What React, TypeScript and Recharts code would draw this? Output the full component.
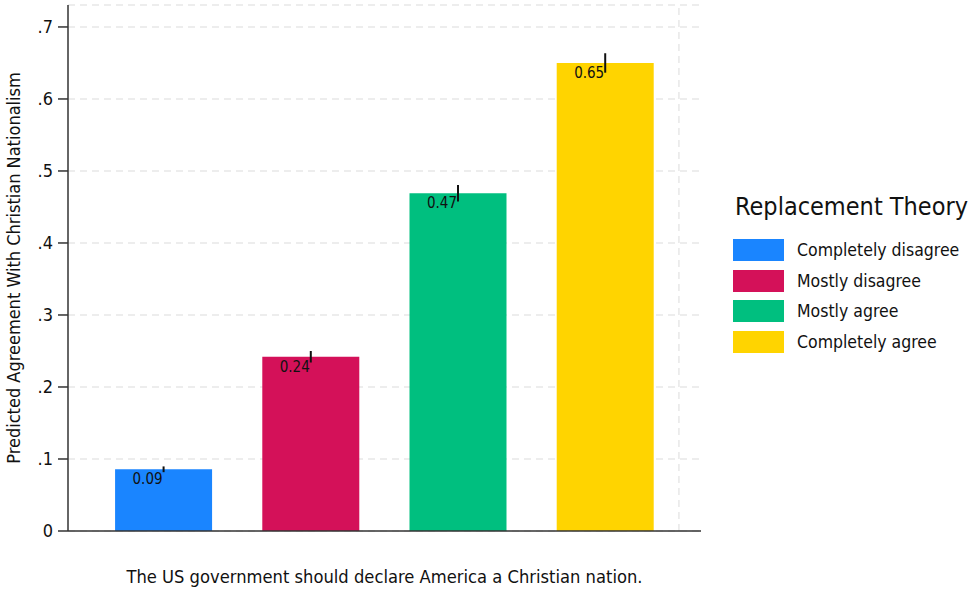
import React from 'react';
import {
  ComposedChart,
  Bar,
  XAxis,
  YAxis,
  CartesianGrid,
  ErrorBar,
  LabelList,
  Cell,
  Legend,
  ReferenceLine,
  Label,
} from 'recharts';

const categories = ['Completely disagree', 'Mostly disagree', 'Mostly agree', 'Completely agree'];
const positions = [1, 2, 3, 4];
const predicted = [0.0857, 0.242, 0.469, 0.65];
const ciHalfWidth = [0.004, 0.008, 0.0115, 0.0135];
const colors = ['#1A85FF', '#D41159', '#00BF7F', '#FFD400'];
const yTicks = [0, 0.1, 0.2, 0.3, 0.4, 0.5, 0.6, 0.7];
const xDomain = [0.35, 4.65];
const yDomain = [0, 0.7305];
const xGridLines = [4.5];
const legendTitle = 'Replacement Theory';
const xTitle = 'The US government should declare America a Christian nation.';
const yTitle = 'Predicted Agreement With Christian Nationalism';

const data = categories.map((c, i) => ({
  category: c,
  x: positions[i],
  value: predicted[i],
  err: ciHalfWidth[i],
}));

const FONT = "'DejaVu Sans Condensed', 'DejaVu Sans', sans-serif";
const GRID = '#e8e8e8';

const fmtY = (v: number) => (v === 0 ? '0' : v.toFixed(1).replace(/^0/, ''));

const renderValueLabel = (props: any) => {
  const { x, y, width, value } = props;
  if (value == null) return null;
  return (
    <text
      x={Number(x) + Number(width) / 2 - 1}
      y={Number(y) + 15}
      textAnchor="end"
      fontFamily={FONT}
      fontStretch="condensed"
      fontSize={15}
      fill="#111"
    >
      {Number(value).toFixed(2)}
    </text>
  );
};

const renderLegend = () => (
  <div style={{ position: 'relative', width: 244, height: 180, fontFamily: FONT, fontStretch: 'condensed', color: '#111' }}>
    <div style={{ position: 'absolute', left: 2, top: 1, fontSize: 25, lineHeight: '34px', whiteSpace: 'nowrap' }}>
      {legendTitle}
    </div>
    {categories.map((c, i) => (
      <div key={c} style={{ position: 'absolute', left: 0, top: 50 + i * 30.7, height: 22, width: 244 }}>
        <div style={{ position: 'absolute', left: 0, top: 0, width: 51, height: 22, background: colors[i] }} />
        <div
          style={{
            position: 'absolute',
            left: 64,
            top: -2,
            fontSize: 17.5,
            lineHeight: '26px',
            whiteSpace: 'nowrap',
          }}
        >
          {c}
        </div>
      </div>
    ))}
  </div>
);

export default function App() {
  return (
    <div style={{ position: 'absolute', left: 0, top: 0, width: 977, height: 591, background: '#fff' }}>
      <ComposedChart
        width={977}
        height={591}
        data={data}
        margin={{ top: 5, right: 276, bottom: 0, left: 0 }}
      >
        <CartesianGrid
          vertical={false}
          stroke={GRID}
          strokeWidth={1.5}
          strokeDasharray="7 5"
        />
        {xGridLines.map((g) => (
          <ReferenceLine key={g} x={g} stroke={GRID} strokeWidth={1.5} strokeDasharray="7 5" />
        ))}
        <XAxis
          dataKey="x"
          type="number"
          domain={xDomain}
          ticks={positions}
          tick={false}
          tickLine={false}
          allowDataOverflow
          height={60}
          stroke="#333"
          strokeWidth={1.5}
        >
          <Label
            content={(props: any) => {
              const vb = props.viewBox || {};
              return (
                <text
                  x={vb.x + vb.width / 2}
                  y={vb.y + 52}
                  textAnchor="middle"
                  fontFamily={FONT}
                  fontStretch="condensed"
                  fontSize={18.2}
                  fill="#111"
                >
                  {xTitle}
                </text>
              );
            }}
          />
        </XAxis>
        <YAxis
          type="number"
          domain={yDomain}
          ticks={yTicks}
          tickFormatter={fmtY}
          allowDataOverflow
          width={68}
          tickSize={10}
          tickMargin={5}
          stroke="#333"
          strokeWidth={1.5}
          tick={{ fill: '#111', fontFamily: FONT, fontSize: 18 }}
        >
          <Label
            content={(props: any) => {
              const vb = props.viewBox || {};
              const cx = vb.x + 13;
              const cy = vb.y + vb.height / 2;
              return (
                <text
                  transform={`translate(${cx},${cy}) rotate(-90)`}
                  textAnchor="middle"
                  dominantBaseline="central"
                  fontFamily={FONT}
                  fontStretch="condensed"
                  fontSize={18}
                  fill="#111"
                >
                  {yTitle}
                </text>
              );
            }}
          />
        </YAxis>
        <Bar dataKey="value" barSize={97} isAnimationActive={false}>
          {data.map((d, i) => (
            <Cell key={d.category} fill={colors[i]} />
          ))}
          <ErrorBar dataKey="err" width={0} strokeWidth={2} stroke="#111" direction="y" />
          <LabelList dataKey="value" content={renderValueLabel} />
        </Bar>
        <Legend
          layout="horizontal"
          verticalAlign="middle"
          align="center"
          wrapperStyle={{ position: 'absolute', left: 733, top: 189, width: 244, height: 180 }}
          content={renderLegend}
        />
      </ComposedChart>
    </div>
  );
}
